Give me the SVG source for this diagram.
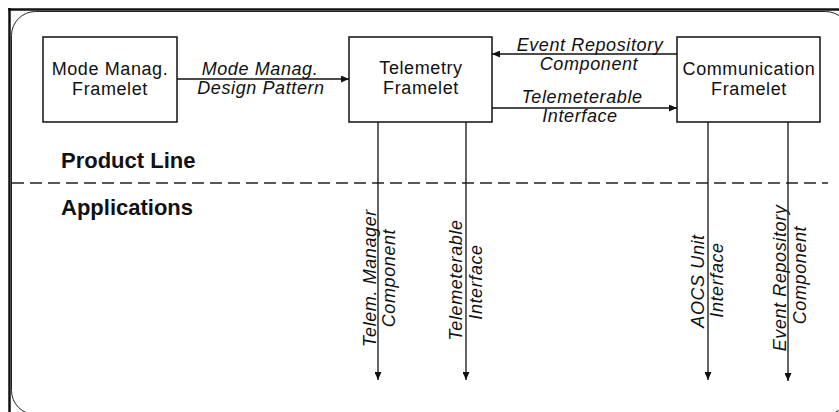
<svg xmlns="http://www.w3.org/2000/svg" width="839" height="412" viewBox="0 0 839 412">
  <style>
    .box { fill: #ffffff; stroke: #111; stroke-width: 1.5; }
    .lbl { font-family: "Liberation Sans", Arial, sans-serif; font-size: 18px; fill: #111; letter-spacing: 0.6px; text-anchor: middle; }
    .it { font-style: italic; }
    .sec { font-family: "Liberation Sans", Arial, sans-serif; font-size: 22px; font-weight: bold; fill: #111; }
    .conn { stroke: #111; stroke-width: 1.3; fill: none; marker-end: url(#arrow); }
  </style>
  <defs>
    <marker id="arrow" viewBox="0 0 8 7" refX="8" refY="3.5" markerWidth="8" markerHeight="7" markerUnits="userSpaceOnUse" orient="auto">
      <path d="M0,0 L8,3.5 L0,7 z" fill="#111"/>
    </marker>
  </defs>
  <rect x="0" y="0" width="839" height="412" fill="#ffffff"/>

  <g id="frame">
    <line x1="8" y1="9.5" x2="839" y2="9.5" stroke="#111" stroke-width="2.5"/>
    <line x1="9.5" y1="8" x2="9.5" y2="412" stroke="#111" stroke-width="2.5"/>
    <rect x="11.5" y="11.5" width="838" height="403" rx="24" ry="24" fill="none" stroke="#222" stroke-width="1"/>
  </g>

  <g id="sections">
    <text class="sec" x="61" y="168">Product Line</text>
    <line x1="12" y1="183" x2="828" y2="183" stroke="#222" stroke-width="1.5" stroke-dasharray="12 6"/>
    <text class="sec" x="61" y="215">Applications</text>
  </g>

  <g id="mode-manag-framelet">
    <rect class="box" x="43" y="37" width="134" height="85"/>
    <text class="lbl" x="110" y="75">Mode Manag.</text>
    <text class="lbl" x="110" y="95">Framelet</text>
  </g>

  <g id="telemetry-framelet">
    <rect class="box" x="349" y="37" width="143" height="85"/>
    <text class="lbl" x="421" y="74">Telemetry</text>
    <text class="lbl" x="421" y="94">Framelet</text>
  </g>

  <g id="communication-framelet">
    <rect class="box" x="677" y="37" width="143" height="85"/>
    <text class="lbl" x="749" y="75">Communication</text>
    <text class="lbl" x="749" y="95">Framelet</text>
  </g>

  <g id="connectors">
    <g id="c-mode-telemetry">
      <line class="conn" x1="177" y1="79" x2="349" y2="79"/>
      <text class="lbl it" x="260" y="75">Mode Manag.</text>
      <text class="lbl it" x="261" y="94">Design Pattern</text>
    </g>
    <g id="c-event-repository">
      <line class="conn" x1="677" y1="54" x2="492" y2="54"/>
      <text class="lbl it" x="590" y="51">Event Repository</text>
      <text class="lbl it" x="589" y="70">Component</text>
    </g>
    <g id="c-telemeterable">
      <line class="conn" x1="492" y1="108" x2="677" y2="108"/>
      <text class="lbl it" x="582" y="103">Telemeterable</text>
      <text class="lbl it" x="580" y="122">Interface</text>
    </g>
    <g id="c-telem-manager">
      <line class="conn" x1="378" y1="122" x2="378" y2="380"/>
      <text class="lbl it" transform="translate(376,278) rotate(-90)">Telem. Manager</text>
      <text class="lbl it" transform="translate(395,278) rotate(-90)">Component</text>
    </g>
    <g id="c-telemeterable-app">
      <line class="conn" x1="466" y1="122" x2="466" y2="380"/>
      <text class="lbl it" transform="translate(462,280) rotate(-90)">Telemeterable</text>
      <text class="lbl it" transform="translate(482,282) rotate(-90)">Interface</text>
    </g>
    <g id="c-aocs-unit">
      <line class="conn" x1="708" y1="122" x2="708" y2="380"/>
      <text class="lbl it" transform="translate(704,281) rotate(-90)">AOCS Unit</text>
      <text class="lbl it" transform="translate(723,280) rotate(-90)">Interface</text>
    </g>
    <g id="c-event-repository-app">
      <line class="conn" x1="788" y1="122" x2="788" y2="381"/>
      <text class="lbl it" transform="translate(786,278) rotate(-90)">Event Repository</text>
      <text class="lbl it" transform="translate(806,275) rotate(-90)">Component</text>
    </g>
  </g>
</svg>
